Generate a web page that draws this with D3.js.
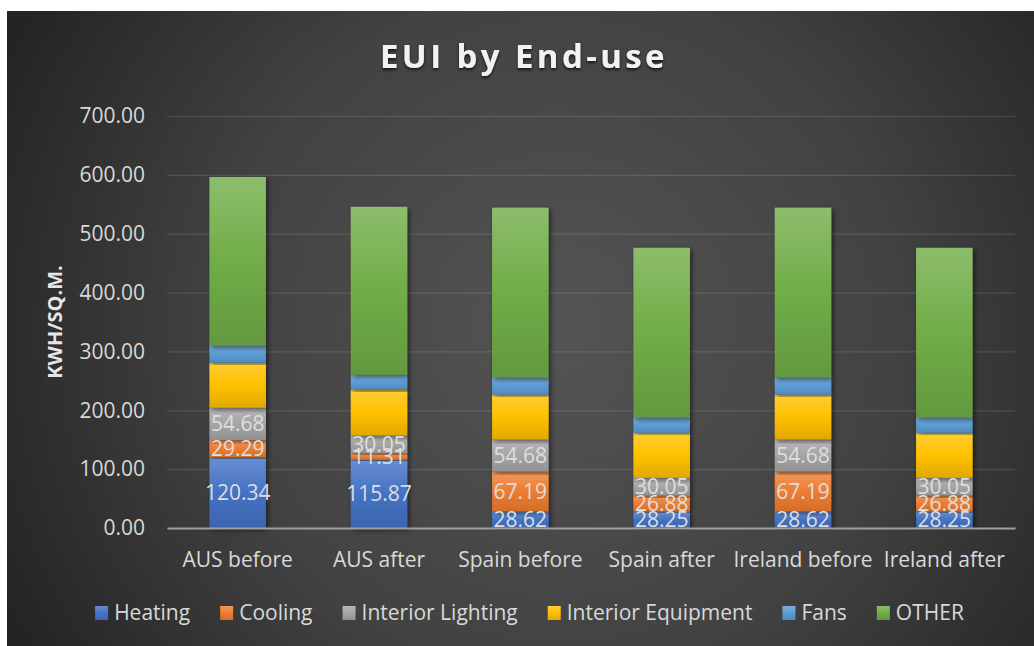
<!DOCTYPE html>
<html>
<head>
<meta charset="utf-8">
<script src="https://cdn.jsdelivr.net/npm/d3@7"></script>
<style>
  html, body { margin: 0; padding: 0; background: #ffffff; }
  svg { display: block; }
  text { font-family: "Open Sans", "Noto Sans", sans-serif; }
</style>
</head>
<body>
<svg id="chart" width="1034" height="646"></svg>
<script>
// Sites / scenarios on the x axis
const categories = ["AUS before", "AUS after", "Spain before", "Spain after", "Ireland before", "Ireland after"];

// End-use series (kWh per sq. m.)
const heating   = [120.34, 115.87, 28.62, 28.25, 28.62, 28.25];
const cooling   = [29.29, 11.31, 67.19, 26.88, 67.19, 26.88];
const lighting  = [54.68, 30.05, 54.68, 30.05, 54.68, 30.05];
const equipment = [76.6, 77.5, 76.2, 76.6, 76.2, 76.6];
const fans      = [28.5, 25.5, 28.6, 25.5, 28.6, 25.5];
const other     = [287.0, 285.5, 289.0, 288.8, 289.0, 288.8];

const seriesNames = ["Heating", "Cooling", "Interior Lighting", "Interior Equipment", "Fans", "OTHER"];
const yTicks = [0, 100, 200, 300, 400, 500, 600, 700];

const seriesValues = [heating, cooling, lighting, equipment, fans, other];
const seriesColors = ["#4472C4", "#ED7D31", "#A5A5A5", "#FFC000", "#5B9BD5", "#70AD47"];
const labelled = [true, true, true, false, false, false];

const rows = categories.map((c, i) => {
  const r = { cat: c };
  seriesNames.forEach((s, k) => { r[s] = seriesValues[k][i]; });
  return r;
});

const W = 1034, H = 646;
const plot = { left: 167, right: 1015, top: 116, bottom: 528 };

const svg = d3.select("#chart");
const defs = svg.append("defs");

// Dark card background with a soft radial highlight
const bg = defs.append("radialGradient").attr("id", "bgGrad")
  .attr("gradientUnits", "userSpaceOnUse")
  .attr("cx", 560).attr("cy", 330).attr("r", 620);
bg.append("stop").attr("offset", "0%").attr("stop-color", "#545454");
bg.append("stop").attr("offset", "55%").attr("stop-color", "#424242");
bg.append("stop").attr("offset", "100%").attr("stop-color", "#242424");

// Vertical shading for each series
seriesColors.forEach((col, k) => {
  const g = defs.append("linearGradient").attr("id", "seg" + k)
    .attr("x1", 0).attr("y1", 0).attr("x2", 0).attr("y2", 1);
  const c = d3.color(col);
  g.append("stop").attr("offset", "0%").attr("stop-color", d3.interpolateRgb(col, "#ffffff")(0.2));
  g.append("stop").attr("offset", "50%").attr("stop-color", c.formatHex());
  g.append("stop").attr("offset", "100%").attr("stop-color", c.darker(0.35).formatHex());
});

const shadow = defs.append("filter").attr("id", "barShadow")
  .attr("x", "-20%").attr("y", "-5%").attr("width", "150%").attr("height", "115%");
shadow.append("feDropShadow").attr("dx", 2).attr("dy", 2).attr("stdDeviation", 2.5)
  .attr("flood-color", "#000").attr("flood-opacity", 0.55);

const titleShadow = defs.append("filter").attr("id", "titleShadow")
  .attr("x", "-10%").attr("y", "-30%").attr("width", "120%").attr("height", "170%");
titleShadow.append("feDropShadow").attr("dx", 0).attr("dy", 2).attr("stdDeviation", 1.5)
  .attr("flood-color", "#000").attr("flood-opacity", 0.7);

svg.append("rect").attr("x", 7).attr("y", 11).attr("width", W - 7).attr("height", H - 11)
  .attr("fill", "url(#bgGrad)");

// Scales
const x = d3.scaleBand().domain(categories).range([plot.left, plot.right])
  .paddingInner(0.6).paddingOuter(0.3);
const y = d3.scaleLinear().domain([0, 700]).range([plot.bottom, plot.top]);

// Gridlines and y labels
const yAxis = d3.axisLeft(y).tickValues(yTicks).tickSize(-(plot.right - plot.left))
  .tickPadding(22).tickFormat(d3.format(".2f"));
const gy = svg.append("g").attr("transform", `translate(${plot.left},0)`).call(yAxis);
gy.select(".domain").remove();
gy.selectAll(".tick line").attr("stroke", "#ffffff").attr("stroke-opacity", 0.12).attr("stroke-width", 1.2);
gy.selectAll(".tick text").attr("fill", "#d9d9d9").attr("font-size", 21)
  .style("font-family", "'Open Sans', sans-serif");

// Stacked bars
const stack = d3.stack().keys(seriesNames);
const layers = stack(rows);

const barsG = svg.append("g");
layers.forEach((layer, k) => {
  barsG.append("g").selectAll("rect").data(layer).join("rect")
    .attr("x", d => x(d.data.cat))
    .attr("width", x.bandwidth())
    .attr("y", d => y(d[1]))
    .attr("height", d => y(d[0]) - y(d[1]))
    .attr("fill", `url(#seg${k})`)
    .attr("filter", "url(#barShadow)");
});

// Baseline axis
const gx = svg.append("g").attr("transform", `translate(0,${plot.bottom})`)
  .call(d3.axisBottom(x).tickSize(0).tickPadding(24));
gx.select(".domain").attr("stroke", "#a0a0a0").attr("stroke-width", 2);
gx.selectAll(".tick text").attr("fill", "#d9d9d9").attr("font-size", 21)
  .style("font-family", "'Open Sans', sans-serif");

// Value labels on the lower segments
const labelsG = svg.append("g");
layers.forEach((layer, k) => {
  if (!labelled[k]) return;
  labelsG.append("g").selectAll("text").data(layer).join("text")
    .attr("x", d => x(d.data.cat) + x.bandwidth() / 2)
    .attr("y", d => (y(d[0]) + y(d[1])) / 2)
    .attr("dy", "0.36em")
    .attr("text-anchor", "middle")
    .attr("fill", "#dedede")
    .attr("font-size", 21)
    .text(d => d3.format(".2f")(d.data[seriesNames[k]]));
});

// Axis title
svg.append("text")
  .attr("transform", `translate(62,${(plot.top + plot.bottom) / 2}) rotate(-90)`)
  .attr("text-anchor", "middle")
  .attr("fill", "#e6e6e6").attr("font-size", 20).attr("font-weight", 700)
  .text("KWH/SQ.M.");

// Title
svg.append("text")
  .attr("x", 524).attr("y", 68)
  .attr("text-anchor", "middle")
  .attr("fill", "#f2f2f2").attr("font-size", 33).attr("font-weight", 700)
  .attr("letter-spacing", 3.4)
  .attr("filter", "url(#titleShadow)")
  .text("EUI by End-use");

// Legend
const legend = svg.append("g");
const items = legend.selectAll("g").data(seriesNames).join("g");
items.append("rect").attr("width", 13).attr("height", 14).attr("y", -7)
  .attr("fill", (d, k) => `url(#seg${k})`);
items.append("text").attr("x", 19).attr("dy", "0.35em")
  .attr("fill", "#d9d9d9").attr("font-size", 21).text(d => d);
let cursor = 0;
const offsets = [];
items.each(function (d, k) {
  offsets.push(cursor);
  const tw = d3.select(this).select("text").node().getComputedTextLength();
  cursor += 19 + tw + 30;
});
const totalW = cursor - 30;
const startX = 529.5 - totalW / 2;
items.attr("transform", (d, k) => `translate(${startX + offsets[k]},613)`);
</script>
</body>
</html>
